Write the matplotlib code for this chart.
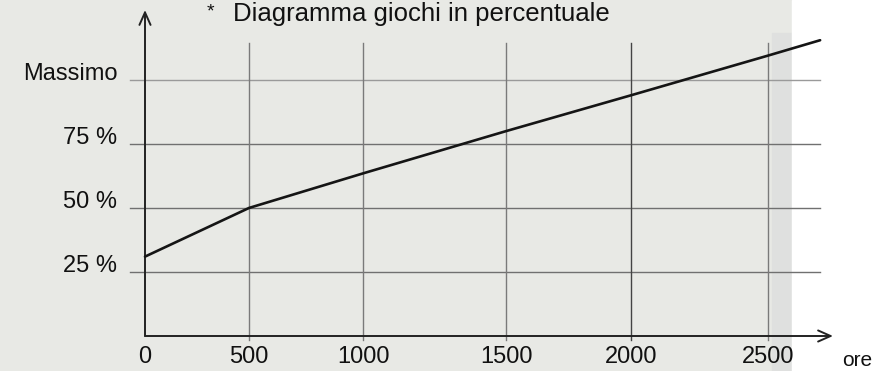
import numpy as np
import matplotlib
matplotlib.use("Agg")
import matplotlib.pyplot as plt
import matplotlib.transforms as mtransforms
from matplotlib.patches import Rectangle

plt.rcParams['font.family'] = ['Liberation Sans', 'DejaVu Sans']

# data
hours = [0, 500, 1000, 1500, 2000, 2500, 2690]
gioco = [31, 50, 63.5, 80, 94, 109.5, 115.5]   # percent of maximum
xticks = [0, 500, 1000, 1500, 2000, 2500]
xlabels = ['0', '500', '1000', '1500', '2000', '2500']
yticks = [25, 50, 75, 100]
ylabels = ['25 %', '50 %', '75 %', 'Massimo']
title = 'Diagramma giochi in percentuale'

# the original hand-drawn grid is not evenly spaced, so map hours piecewise
grid_h = np.array([0, 500, 1000, 1500, 2000, 2500, 3000])
grid_px = np.array([0, 104, 218, 361, 486, 623, 760])

def fwd(h):
    return np.interp(h, grid_h, grid_px)

def inv(p):
    return np.interp(p, grid_px, grid_h)

W, H = 889, 371
fig = plt.figure(figsize=(W / 100, H / 100), dpi=100)
fig.patch.set_facecolor('#e8e9e5')
# rough background: shade band and white area on the right
fig.patches.append(Rectangle((772 / W, 0), 20 / W, 0.91, transform=fig.transFigure,
                             color='#dfe0df', zorder=-5))
fig.patches.append(Rectangle((792 / W, 0), 1, 1, transform=fig.transFigure,
                             color='white', zorder=-5))

ax = fig.add_axes([145 / W, 35 / H, 688 / W, 326 / H])
ax.set_facecolor('none')
ax.set_xscale('function', functions=(fwd, inv))
ax.set_xlim(0, 2737)
ax.set_ylim(0, 127.3)
for s in ax.spines.values():
    s.set_visible(False)

# grid
for y in yticks:
    c = '#9a9a9a' if y == 100 else '#707070'
    ax.axhline(y, xmin=-0.022, xmax=0.981, color=c, lw=1.0, clip_on=False, zorder=1)
for x in xticks[1:]:
    c = '#444444' if x == 2000 else '#7a7a7a'
    ax.axvline(x, ymin=-0.012, ymax=0.90, color=c, lw=1.0, clip_on=False, zorder=1)

# axes with open arrow heads
arrow = dict(arrowstyle='->,head_length=0.9,head_width=0.4', color='#222222', lw=1.4,
             shrinkA=0, shrinkB=0)
ax.annotate('', xy=(0, 127.3), xytext=(0, 0), arrowprops=arrow, annotation_clip=False)
ax.annotate('', xy=(2737, 0), xytext=(0, 0), arrowprops=arrow, annotation_clip=False)

ax.plot(hours, gioco, color='#151515', lw=1.9, zorder=3, clip_on=False,
        solid_capstyle='round')

ax.set_xticks(xticks)
ax.set_xticklabels(xlabels)
ax.set_yticks(yticks)
ax.set_yticklabels(ylabels)
ax.tick_params(length=0, labelsize=17, labelcolor='#111111')
ax.tick_params(axis='x', pad=7)
ax.tick_params(axis='y', pad=20)
shift = mtransforms.ScaledTranslation(0, 8 / 100, fig.dpi_scale_trans)
for lab in ax.get_yticklabels():
    lab.set_transform(lab.get_transform() + shift)

fig.text(857 / W, 1 - 360 / H, 'ore', fontsize=15, color='#111111', ha='center', va='center')
# title sits at the very top, kept just inside the figure
fig.text(233 / W, 1 - 21 / H, title, fontsize=18.5, color='#111111', ha='left', va='baseline')
fig.text(210 / W, 1 - 12 / H, '*', fontsize=14, color='#111111', ha='center', va='center')

fig.savefig('out.png', dpi=100, facecolor=fig.get_facecolor())
